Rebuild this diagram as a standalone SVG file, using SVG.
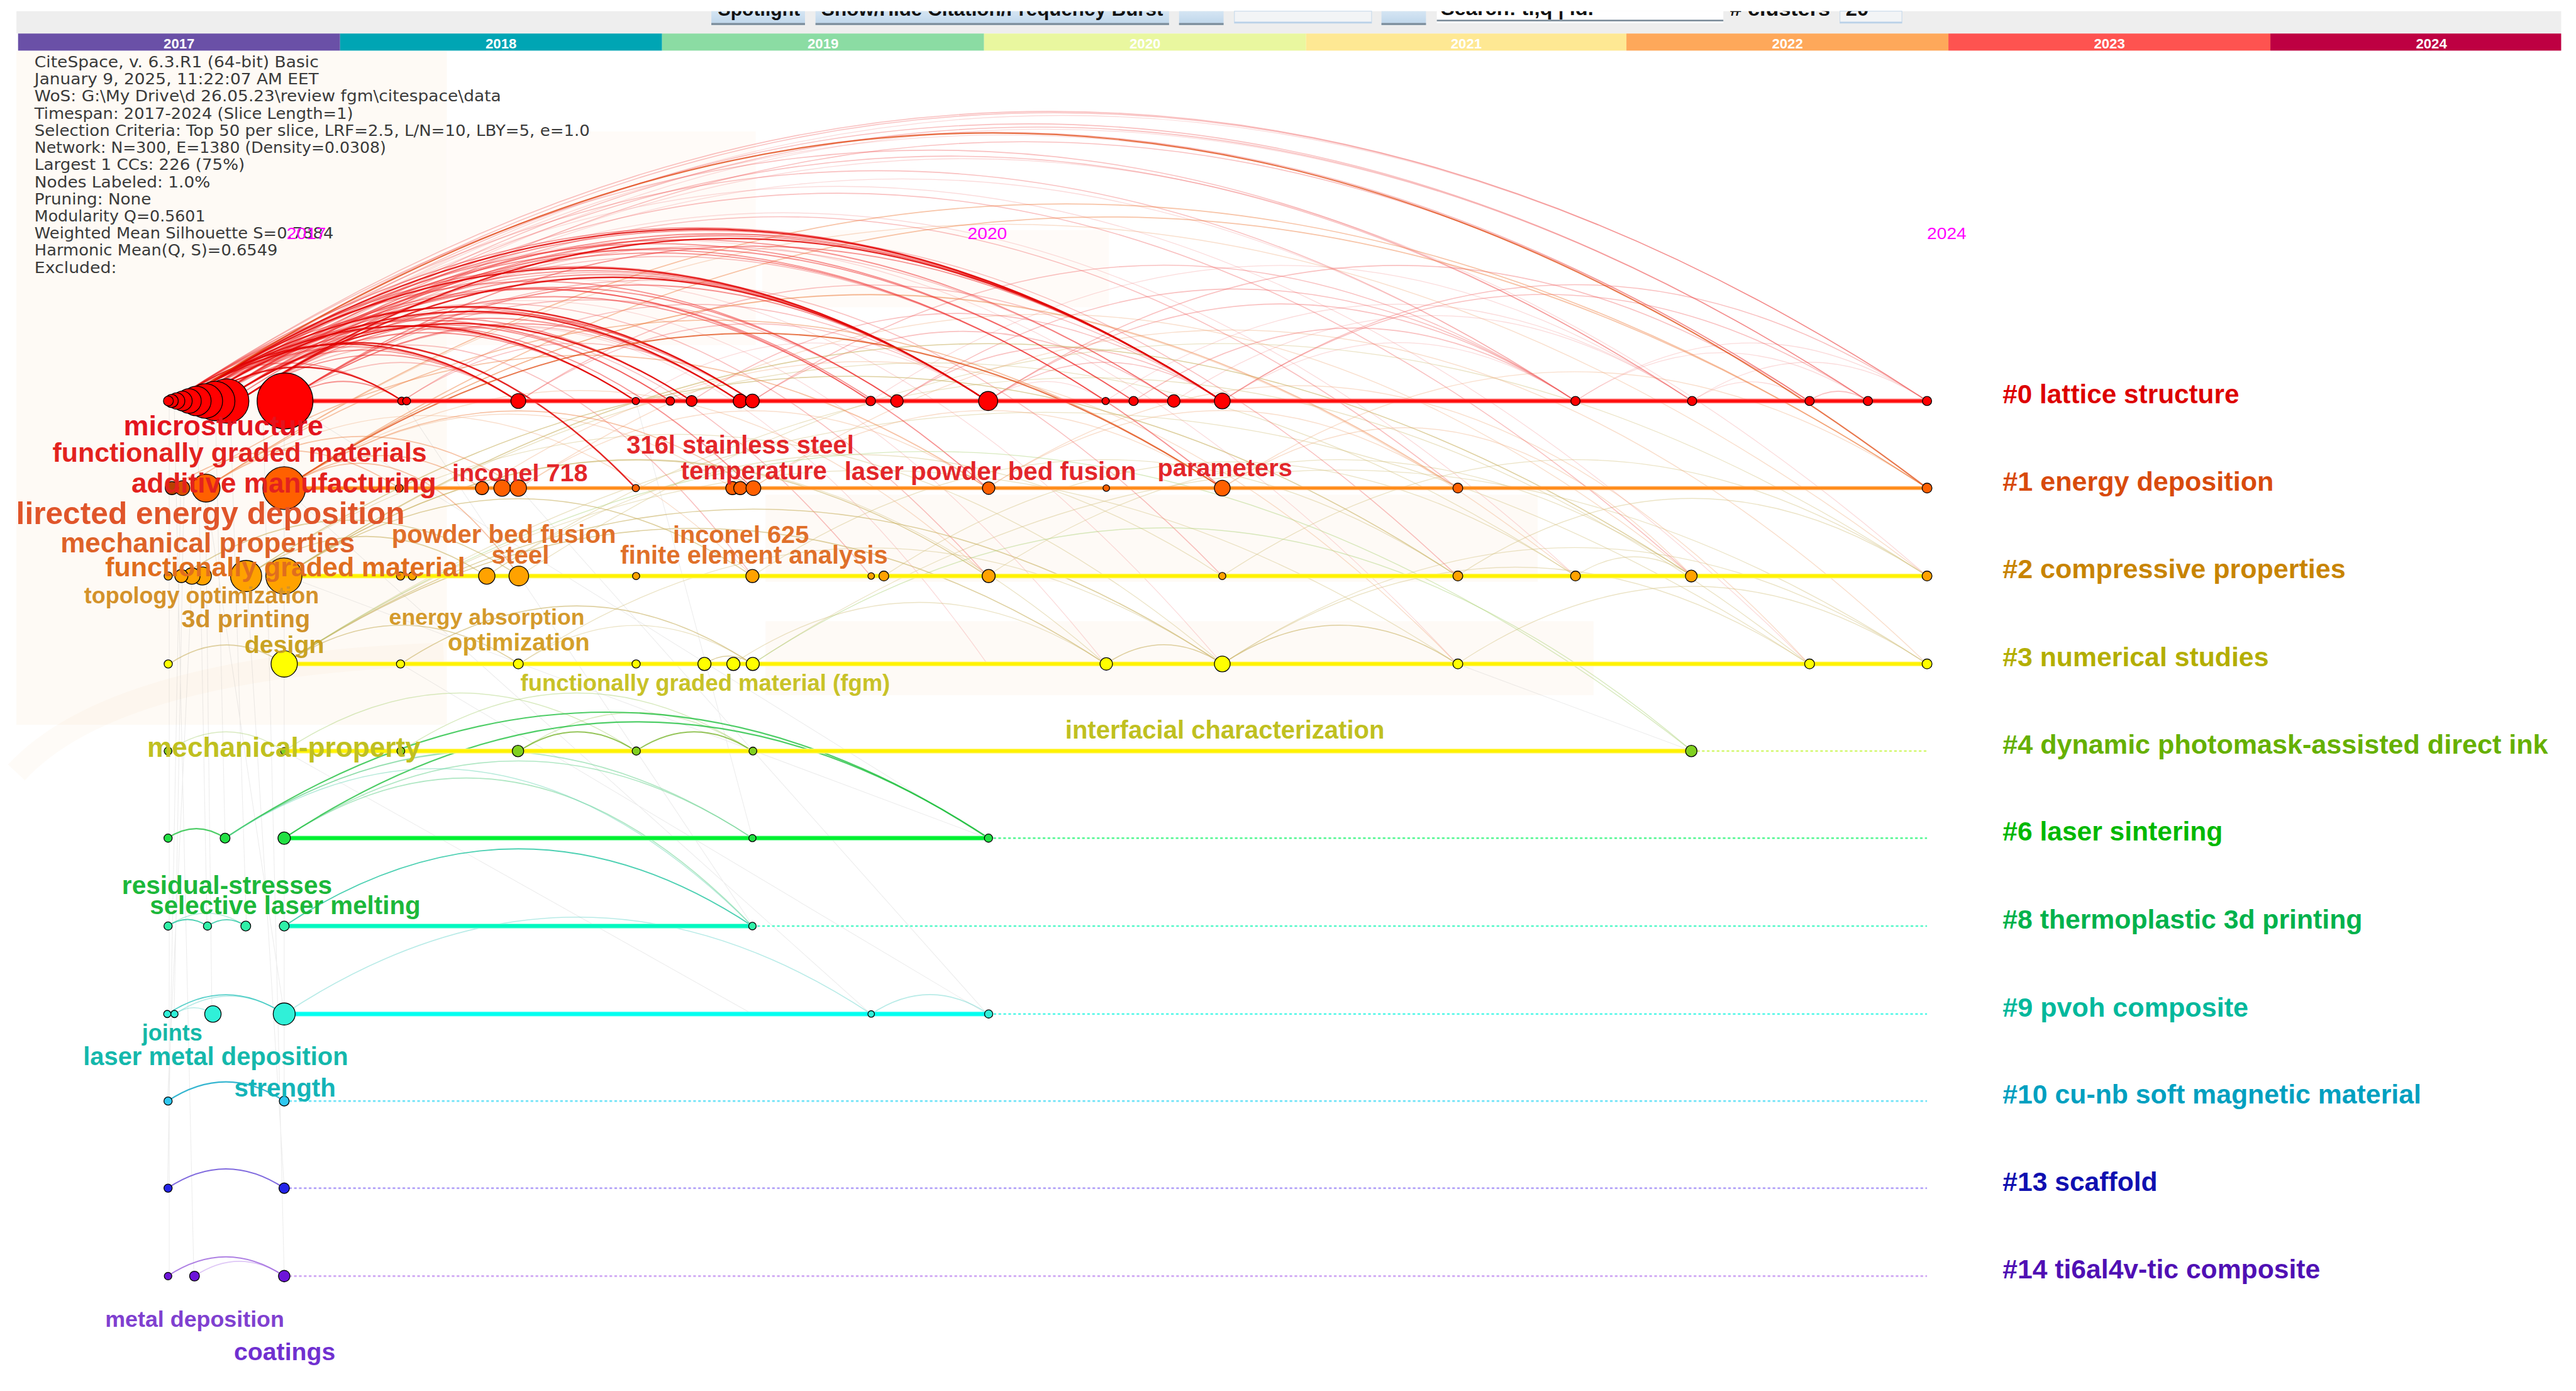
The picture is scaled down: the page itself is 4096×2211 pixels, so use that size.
<svg xmlns="http://www.w3.org/2000/svg" width="4096" height="2211" viewBox="0 0 4096 2211">
<defs>
<style>
.info{font-family:"DejaVu Sans","Liberation Sans",sans-serif;font-size:9.4px;fill:#3a3a3a}
.yr{font-family:"Liberation Sans",Arial,sans-serif;font-size:8.5px;font-weight:bold;fill:#ffffff;text-anchor:middle}
.mg{font-family:"Liberation Sans",Arial,sans-serif;font-size:10px;fill:#ff00ff}
.tb{font-family:"Liberation Sans",Arial,sans-serif;font-size:12px;font-weight:bold;fill:#111111}
.lb{font-family:"Liberation Sans",Arial,sans-serif;font-weight:bold}
.cl{font-family:"Liberation Sans",Arial,sans-serif;font-weight:bold;font-size:16px}
.n{stroke:#000000;stroke-width:0.5}
.c0{fill:#ff0000}.c1{fill:#ff6000}.c2{fill:#ffa200}.c3{fill:#ffff00}.c4{fill:#80d020}.c6{fill:#22e044}.c8{fill:#30f0a8}.c9{fill:#30f0d8}.c10{fill:#30c8f0}.c13{fill:#2424e8}.c14{fill:#6c14d8}
#connectors path,#connectors line{fill:none}
.r1{stroke:#e00000;stroke-opacity:.85;stroke-width:.9}
.r2{stroke:#f02828;stroke-opacity:.5;stroke-width:.7}
.r3{stroke:#f05a5a;stroke-opacity:.38;stroke-width:.6}
.r4{stroke:#f49090;stroke-opacity:.32;stroke-width:.5}
.o1{stroke:#e04a10;stroke-opacity:.75;stroke-width:.8}
.o2{stroke:#ee7a3a;stroke-opacity:.45;stroke-width:.65}
.o3{stroke:#f0a878;stroke-opacity:.38;stroke-width:.55}
.y1{stroke:#c8b060;stroke-opacity:.6;stroke-width:.6}
.y2{stroke:#d2c27e;stroke-opacity:.45;stroke-width:.5}
.g1{stroke:#70b020;stroke-opacity:.75;stroke-width:.7}
.g2{stroke:#a8d070;stroke-opacity:.45;stroke-width:.55}
.g3{stroke:#20c040;stroke-opacity:.8;stroke-width:.8}
.g4{stroke:#60d088;stroke-opacity:.5;stroke-width:.6}
.t1{stroke:#10c098;stroke-opacity:.75;stroke-width:.7}
.t2{stroke:#70d8b8;stroke-opacity:.5;stroke-width:.6}
.c1a{stroke:#20c0b8;stroke-opacity:.75;stroke-width:.7}
.c2a{stroke:#70d8d0;stroke-opacity:.5;stroke-width:.6}
.gl{stroke:#a8a8a8;stroke-opacity:.22;stroke-width:.4}
.dot{fill:none;stroke-width:1;stroke-dasharray:1.6 1.4}
</style>
<linearGradient id="btn" x1="0" y1="0" x2="0" y2="1">
<stop offset="0" stop-color="#d5e5f3"/><stop offset="1" stop-color="#bdd5ea"/>
</linearGradient>
<clipPath id="tbclip"><rect x="0" y="6.8" width="1568" height="14"/></clipPath>
</defs>
<rect width="4096" height="2211" fill="#ffffff"/>
<g transform="scale(2.6122)">
<g id="background">
<rect x="10" y="6.8" width="1549" height="13.6" fill="#eeeeee"/>
<rect x="10" y="31" width="262" height="410" fill="#fefaf5"/>
<rect x="272" y="80" width="188" height="130" fill="#fffbf8"/>
<rect x="464" y="140" width="211" height="47" fill="#fffbf8"/>
<rect x="466" y="301" width="470" height="53" fill="#fefaf6"/>
<rect x="466" y="378" width="504" height="45" fill="#fefaf6"/>
<path d="M10 470 Q70 405 270 398" fill="none" stroke="#f6dcc0" stroke-width="14" stroke-opacity=".12"/>
</g>
<g id="toolbar">
<rect x="433" y="6.8" width="57" height="8.4" fill="url(#btn)"/><rect x="433" y="14" width="57" height="1.2" fill="#7b8c9a"/>
<rect x="496.4" y="6.8" width="215.2" height="8.4" fill="url(#btn)"/><rect x="496.4" y="14" width="215.2" height="1.2" fill="#7b8c9a"/>
<rect x="717.7" y="6.8" width="27.1" height="8.4" fill="url(#btn)"/><rect x="717.7" y="14" width="27.1" height="1.2" fill="#7b8c9a"/>
<rect x="751.4" y="6.8" width="83.5" height="7.3" fill="#f2f4f6" stroke="#c4d8ea" stroke-width=".4"/><rect x="751.4" y="13.2" width="83.5" height="0.9" fill="#b8d0e8"/>
<rect x="840.9" y="6.8" width="27.1" height="8.4" fill="url(#btn)"/><rect x="840.9" y="14" width="27.1" height="1.2" fill="#7b8c9a"/>
<rect x="874.6" y="6.8" width="174.4" height="7.3" fill="#ffffff"/><rect x="874.6" y="12" width="174.4" height="1" fill="#7b8c9a"/>
<rect x="1120" y="6.8" width="37.7" height="7.3" fill="#f2f4f6" stroke="#c4d8ea" stroke-width=".4"/><rect x="1120" y="13.2" width="37.7" height="0.9" fill="#b8d0e8"/>
<g clip-path="url(#tbclip)">
<text class="tb" x="437" y="9.6" font-size="11.5" textLength="50" lengthAdjust="spacingAndGlyphs">Spotlight</text>
<text class="tb" x="500" y="9.6" textLength="208" lengthAdjust="spacingAndGlyphs">Show/Hide Citation/Frequency Burst</text>
<text class="tb" x="877" y="9.3" font-weight="normal" font-size="11" textLength="93" lengthAdjust="spacingAndGlyphs">Search: ti,q | id.</text>
<text class="tb" x="1053" y="9.6" textLength="61" lengthAdjust="spacingAndGlyphs"># clusters</text>
<text class="tb" x="1123.5" y="9.6" textLength="14" lengthAdjust="spacingAndGlyphs">20</text>
</g>
</g>
<g id="yearbar">
<rect x="11" y="20.4" width="196" height="10.4" fill="#6a50a7"/>
<rect x="207" y="20.4" width="196" height="10.4" fill="#00a5b4"/>
<rect x="403" y="20.4" width="196" height="10.4" fill="#8bdca3"/>
<rect x="599" y="20.4" width="196" height="10.4" fill="#e9f79f"/>
<rect x="795" y="20.4" width="195" height="10.4" fill="#fee893"/>
<rect x="990" y="20.4" width="196" height="10.4" fill="#fea85a"/>
<rect x="1186" y="20.4" width="196" height="10.4" fill="#fe5350"/>
<rect x="1382" y="20.4" width="177" height="10.4" fill="#be0042"/>
<text class="yr" x="109" y="29.3">2017</text>
<text class="yr" x="305" y="29.3">2018</text>
<text class="yr" x="501" y="29.3">2019</text>
<text class="yr" x="697" y="29.3">2020</text>
<text class="yr" x="892.5" y="29.3">2021</text>
<text class="yr" x="1088" y="29.3">2022</text>
<text class="yr" x="1284" y="29.3">2023</text>
<text class="yr" x="1480" y="29.3">2024</text>
</g>
<g id="info">
<text class="info" x="21" y="41" textLength="173" lengthAdjust="spacingAndGlyphs">CiteSpace, v. 6.3.R1 (64-bit) Basic</text>
<text class="info" x="21" y="51.4" textLength="173" lengthAdjust="spacingAndGlyphs">January 9, 2025, 11:22:07 AM EET</text>
<text class="info" x="21" y="61.8" textLength="284" lengthAdjust="spacingAndGlyphs">WoS: G:\My Drive\d 26.05.23\review fgm\citespace\data</text>
<text class="info" x="21" y="72.3" textLength="194" lengthAdjust="spacingAndGlyphs">Timespan: 2017-2024 (Slice Length=1)</text>
<text class="info" x="21" y="82.7" textLength="338" lengthAdjust="spacingAndGlyphs">Selection Criteria: Top 50 per slice, LRF=2.5, L/N=10, LBY=5, e=1.0</text>
<text class="info" x="21" y="93.1" textLength="214" lengthAdjust="spacingAndGlyphs">Network: N=300, E=1380 (Density=0.0308)</text>
<text class="info" x="21" y="103.5" textLength="128" lengthAdjust="spacingAndGlyphs">Largest 1 CCs: 226 (75%)</text>
<text class="info" x="21" y="113.9" textLength="107" lengthAdjust="spacingAndGlyphs">Nodes Labeled: 1.0%</text>
<text class="info" x="21" y="124.4" textLength="71" lengthAdjust="spacingAndGlyphs">Pruning: None</text>
<text class="info" x="21" y="134.8" textLength="104" lengthAdjust="spacingAndGlyphs">Modularity Q=0.5601</text>
<text class="info" x="21" y="145.2" textLength="182" lengthAdjust="spacingAndGlyphs">Weighted Mean Silhouette S=0.7884</text>
<text class="info" x="21" y="155.6" textLength="148" lengthAdjust="spacingAndGlyphs">Harmonic Mean(Q, S)=0.6549</text>
<text class="info" x="21" y="166" textLength="50" lengthAdjust="spacingAndGlyphs">Excluded:</text>
</g>
<g id="connectors">
<path class="gl" d="M103 244L103 776M106 244L118 776M112 297L106 617M125 297L129 617M131 244L137 510M140 244L150 563M150 350L173 723M160 244L173 776M173 244L173 670M117 350L102 670M120 244L126 563M173 297L530 617M173 244L601 510M245 244L458 563M316 297L601 617M387 244L458 510M887 404L1030 457M173 350L601 510M125 297L173 617M110 297L102 723M244 404L601 617M173 457L458 617"/>
<path class="r4" d="M120 244Q646.5 -103.5 1173 244"/>
<path class="r4" d="M135 244Q636 -86.7 1137 244"/>
<path class="r4" d="M120 244Q610.5 -79.7 1101 244"/>
<path class="r4" d="M140 244Q549.5 -26.3 959 244"/>
<path class="r4" d="M530 244Q780 79 1030 244"/>
<path class="r4" d="M673 244Q851.5 126.2 1030 244"/>
<path class="r4" d="M959 244Q1048 185.3 1137 244"/>
<path class="r4" d="M1030 244Q1101.5 196.8 1173 244"/>
<path class="r4" d="M387 244Q494 173.4 601 244"/>
<path class="r4" d="M601 244Q637 220.2 673 244"/>
<path class="r4" d="M1030 244Q1065.5 220.6 1101 244"/>
<path class="r4" d="M744 244Q851.5 173 959 244"/>
<path class="r4" d="M715 244Q872.5 140 1030 244"/>
<path class="r4" d="M959 244Q1066 173.4 1173 244"/>
<path class="r4" d="M130 244Q544.5 -29.6 959 350.5"/>
<path class="r4" d="M135 244Q404 66.5 673 404"/>
<path class="r4" d="M120 244Q432 38.1 744 404"/>
<path class="r4" d="M110 244Q498.5 -12.4 887 404"/>
<path class="r4" d="M115 244Q608 -81.4 1101 404"/>
<path class="r4" d="M140 244Q656.5 -96.9 1173 350.5"/>
<path class="r4" d="M173 244Q387 102.8 601 404"/>
<path class="y2" d="M173 350.5Q566 91.1 959 350.5"/>
<path class="y2" d="M316 350.5Q744.5 67.7 1173 350.5"/>
<path class="y2" d="M296 350.5Q520 202.7 744 350.5"/>
<path class="y2" d="M458 350.5Q672.5 208.9 887 350.5"/>
<path class="y2" d="M601 350.5Q815.5 208.9 1030 350.5"/>
<path class="y2" d="M538 350.5Q748.5 211.6 959 350.5"/>
<path class="y2" d="M173 404Q530 168.4 887 404"/>
<path class="y2" d="M173 404Q637 97.8 1101 404"/>
<path class="y2" d="M316 404Q530 262.8 744 404"/>
<path class="y2" d="M458 404Q815.5 168 1173 404"/>
<path class="y2" d="M316 404Q387 357.1 458 404"/>
<path class="y2" d="M446 404Q559.5 329.1 673 404"/>
<path class="y2" d="M744 404Q922.5 286.2 1101 404"/>
<path class="y2" d="M744 404Q958.5 262.4 1173 404"/>
<path class="y2" d="M887 404Q1030 309.6 1173 404"/>
<path class="y2" d="M744 350.5Q958.5 208.9 1173 350.5"/>
<path class="y2" d="M887 350.5Q1030 256.1 1173 350.5"/>
<path class="y2" d="M959 350.5Q994.5 327.1 1030 350.5"/>
<path class="y2" d="M173 350.5Q423 185.5 673 404"/>
<path class="y2" d="M150 350.5Q447 154.5 744 404"/>
<path class="y2" d="M296 350.5Q698.5 84.9 1101 404"/>
<path class="o3" d="M125 297Q649 -48.8 1173 350.5"/>
<path class="o3" d="M173 297Q309.5 207 446 297"/>
<path class="o3" d="M316 297Q458.5 203 601 297"/>
<path class="o3" d="M458 297Q601 202.6 744 297"/>
<path class="o3" d="M601 297Q744 202.6 887 297"/>
<path class="o3" d="M744 297Q958.5 155.4 1173 297"/>
<path class="o3" d="M173 297Q387 155.8 601 350.5"/>
<path class="o3" d="M125 297Q291.5 187.1 458 350.5"/>
<path class="o3" d="M316 297Q673 61.4 1030 350.5"/>
<path class="o3" d="M173 297Q566 37.6 959 350.5"/>
<path class="o3" d="M458 297Q815.5 61 1173 404"/>
<path class="o3" d="M601 297Q851 132 1101 404"/>
<path class="o3" d="M744 297Q887 202.6 1030 350.5"/>
<path class="o3" d="M293 297Q590 101 887 404"/>
<path class="r3" d="M105 244Q639 -108.4 1173 244"/>
<path class="r3" d="M110 244Q641.5 -106.8 1173 244"/>
<path class="r3" d="M127 244Q632 -89.3 1137 244"/>
<path class="r3" d="M115 244Q626 -93.3 1137 244"/>
<path class="r3" d="M110 244Q605.5 -83 1101 244"/>
<path class="r3" d="M145 244Q623 -71.5 1101 244"/>
<path class="r3" d="M105 244Q567.5 -61.3 1030 244"/>
<path class="r3" d="M127 244Q578.5 -54 1030 244"/>
<path class="r3" d="M110 244Q534.5 -36.2 959 244"/>
<path class="r3" d="M145 244Q430 55.9 715 244"/>
<path class="r3" d="M140 244Q406.5 68.1 673 244"/>
<path class="r3" d="M127 244Q364 87.6 601 244"/>
<path class="r3" d="M173 244Q359.5 120.9 546 244"/>
<path class="r3" d="M173 244Q311.5 152.6 450 244"/>
<path class="r3" d="M173 244Q244 197.1 315 244"/>
<path class="r3" d="M245 244Q423 126.5 601 244"/>
<path class="r3" d="M316 244Q530 102.8 744 244"/>
<path class="r3" d="M421 244Q582.5 137.4 744 244"/>
<path class="r3" d="M458 244Q708.5 78.7 959 244"/>
<path class="r3" d="M601 244Q780 125.9 959 244"/>
<path class="r3" d="M601 244Q851 79 1101 244"/>
<path class="r3" d="M690 244Q824.5 155.2 959 244"/>
<path class="r3" d="M744 244Q940.5 114.3 1137 244"/>
<path class="r3" d="M744 244Q958.5 102.4 1173 244"/>
<path class="r3" d="M1101 244Q1119 232.1 1137 244"/>
<path class="r3" d="M458 244Q586.5 159.2 715 244"/>
<path class="r3" d="M316 244Q458.5 150 601 244"/>
<path class="r3" d="M245 244Q351.5 173.7 458 244"/>
<path class="r3" d="M546 244Q645 178.7 744 244"/>
<path class="r3" d="M601 244Q672.5 196.8 744 244"/>
<path class="r3" d="M546 244Q752.5 107.7 959 244"/>
<path class="r3" d="M135 244Q511 -4.2 887 297"/>
<path class="r3" d="M145 244Q337.5 117 530 350.5"/>
<path class="r3" d="M120 244Q360.5 85.3 601 350.5"/>
<path class="r3" d="M173 244Q458.5 55.6 744 350.5"/>
<path class="r3" d="M140 244Q513.5 -2.5 887 350.5"/>
<path class="r3" d="M127 244Q578.5 -54 1030 350.5"/>
<path class="r3" d="M145 244Q301.5 140.7 458 350.5"/>
<path class="y1" d="M173 350.5Q387 209.3 601 350.5"/>
<path class="y1" d="M150 350.5Q518.5 107.3 887 350.5"/>
<path class="y1" d="M173 350.5Q601.5 67.7 1030 350.5"/>
<path class="y1" d="M173 350.5Q315.5 256.5 458 350.5"/>
<path class="y1" d="M110 350.5Q213 282.5 316 350.5"/>
<path class="y1" d="M150 350.5Q223 302.3 296 350.5"/>
<path class="y1" d="M173 404Q423 239 673 404"/>
<path class="y1" d="M173 404Q458.5 215.6 744 404"/>
<path class="y1" d="M244 404Q351 333.4 458 404"/>
<path class="y1" d="M429 404Q443.5 394.4 458 404"/>
<path class="y1" d="M673 404Q708.5 380.6 744 404"/>
<path class="y1" d="M744 404Q815.5 356.8 887 404"/>
<path class="y1" d="M103 404Q138 380.9 173 404"/>
<path class="y1" d="M173 404Q244.5 356.8 316 404"/>
<path class="o2" d="M173 297Q673 -33 1173 297"/>
<path class="o2" d="M125 297Q649 -48.8 1173 297"/>
<path class="o2" d="M125 297Q434.5 92.7 744 297"/>
<path class="o2" d="M173 297Q530 61.4 887 297"/>
<path class="o2" d="M111 297Q356 135.3 601 297"/>
<path class="o2" d="M173 297Q315.5 203 458 297"/>
<path class="o2" d="M125 297Q220.5 234 316 297"/>
<path class="o2" d="M104 297Q173.5 251.1 243 297"/>
<path class="o2" d="M173 297Q233 257.4 293 297"/>
<path class="o2" d="M173 297Q244.5 249.8 316 350.5"/>
<path class="r2" d="M105 244Q424.5 33.1 744 244"/>
<path class="r2" d="M115 244Q429.5 36.4 744 244"/>
<path class="r2" d="M127 244Q435.5 40.4 744 244"/>
<path class="r2" d="M135 244Q439.5 43 744 244"/>
<path class="r2" d="M173 244Q458.5 55.6 744 244"/>
<path class="r2" d="M120 244Q417.5 47.6 715 244"/>
<path class="r2" d="M110 244Q400 52.6 690 244"/>
<path class="r2" d="M127 244Q408.5 58.2 690 244"/>
<path class="r2" d="M115 244Q394 59.9 673 244"/>
<path class="r2" d="M105 244Q353 80.3 601 244"/>
<path class="r2" d="M120 244Q360.5 85.3 601 244"/>
<path class="r2" d="M135 244Q368 90.2 601 244"/>
<path class="r2" d="M173 244Q387 102.8 601 244"/>
<path class="r2" d="M105 244Q325.5 98.5 546 244"/>
<path class="r2" d="M127 244Q336.5 105.7 546 244"/>
<path class="r2" d="M115 244Q322.5 107 530 244"/>
<path class="r2" d="M145 244Q337.5 117 530 244"/>
<path class="r2" d="M127 244Q292.5 134.8 458 244"/>
<path class="r2" d="M135 244Q296.5 137.4 458 244"/>
<path class="r2" d="M173 244Q315.5 150 458 244"/>
<path class="r2" d="M105 244Q277.5 130.1 450 244"/>
<path class="r2" d="M145 244Q297.5 143.3 450 244"/>
<path class="r2" d="M115 244Q268 143 421 244"/>
<path class="r2" d="M110 244Q259 145.7 408 244"/>
<path class="r2" d="M127 244Q267.5 151.3 408 244"/>
<path class="r2" d="M120 244Q253.5 155.9 387 244"/>
<path class="r2" d="M135 244Q261 160.8 387 244"/>
<path class="r2" d="M115 244Q215 178 315 244"/>
<path class="r2" d="M127 244Q221 182 315 244"/>
<path class="r2" d="M145 244Q230 187.9 315 244"/>
<path class="r2" d="M105 244Q175 197.8 245 244"/>
<path class="r2" d="M173 244Q209 220.2 245 244"/>
<path class="r2" d="M115 244Q286.5 130.8 458 297"/>
<path class="r2" d="M120 244Q360.5 85.3 601 297"/>
<path class="r2" d="M127 244Q435.5 40.4 744 297"/>
<path class="r1" d="M110 244Q427 34.8 744 244"/>
<path class="r1" d="M145 244Q444.5 46.3 744 244"/>
<path class="r1" d="M110 244Q355.5 82 601 244"/>
<path class="r1" d="M145 244Q373 93.5 601 244"/>
<path class="r1" d="M110 244Q284 129.2 458 244"/>
<path class="r1" d="M120 244Q285 135.1 450 244"/>
<path class="r1" d="M135 244Q278 149.6 421 244"/>
<path class="r1" d="M110 244Q248.5 152.6 387 244"/>
<path class="r1" d="M105 244Q210 174.7 315 244"/>
<path class="r1" d="M120 244Q182.5 202.7 245 244"/>
<path class="r1" d="M110 244Q248.5 152.6 387 297"/>
<path class="o1" d="M110 244Q641.5 -106.8 1173 297"/>
<path class="o1" d="M173 297Q458.5 108.6 744 297"/>
<path class="g2" d="M458 404Q744 215.2 1030 457"/>
<path class="g2" d="M173 404Q601.5 121.2 1030 457"/>
<path class="g2" d="M316 457Q387 410.1 458 457"/>
<path class="g2" d="M173 457Q280 386.4 387 457"/>
<path class="g2" d="M244 457Q351 386.4 458 457"/>
<path class="g2" d="M102 457Q137.5 433.6 173 457"/>
<path class="g1" d="M316 457Q351.5 433.6 387 457"/>
<path class="g1" d="M387 457Q422.5 433.6 458 457"/>
<path class="g4" d="M173 510Q315.5 416 458 510"/>
<path class="g4" d="M137 510Q297.5 404.1 458 510"/>
<path class="g4" d="M137 510Q226.5 451 316 457"/>
<path class="g4" d="M173 510Q315.5 416 458 563.5"/>
<path class="g3" d="M102 510Q119.5 498.4 137 510"/>
<path class="g3" d="M137 510Q369.4 356.7 601.7 510"/>
<path class="g3" d="M173 510Q387.4 368.5 601.7 510"/>
<path class="t2" d="M102 563.5Q125.8 547.8 149.6 563.5"/>
<path class="t2" d="M137 510Q297.5 404.1 458 563.5"/>
<path class="t1" d="M102 563.5Q114.2 555.5 126.3 563.5"/>
<path class="t1" d="M126.3 563.5Q138 555.8 149.6 563.5"/>
<path class="t1" d="M173 563.5Q315.5 469.5 458 563.5"/>
<path class="c2a" d="M106.5 617Q139.8 595.1 173 617"/>
<path class="c2a" d="M106.5 617Q118 609.4 129.6 617"/>
<path class="c2a" d="M173 617Q351.6 499.1 530.3 617"/>
<path class="c2a" d="M530.3 617Q566 593.4 601.8 617"/>
<path class="c1a" d="M102 617Q137.5 593.6 173 617"/>
<path d="M102 670Q137.5 646.6 173 670" stroke="#10a8c8" stroke-opacity=".85" stroke-width=".8"/>
<path d="M102 723Q137.5 699.6 173 723" stroke="#6a50d8" stroke-opacity=".85" stroke-width=".8"/>
<path d="M118.4 776.5Q145.7 758.5 173 776.5" stroke="#c8a0f0" stroke-opacity=".6" stroke-width=".6"/>
<path d="M102 776.5Q137.5 753.1 173 776.5" stroke="#9a60dc" stroke-opacity=".8" stroke-width=".8"/>
</g>
<g id="timelines">
<line x1="173" y1="244" x2="1173" y2="244" stroke="#ff8080" stroke-width="3.2" stroke-opacity=".7"/>
<line x1="173" y1="244" x2="1173" y2="244" stroke="#ff1010" stroke-width="2"/>
<line x1="173" y1="297" x2="1173" y2="297" stroke="#ffc08a" stroke-width="2.6" stroke-opacity=".8"/>
<line x1="173" y1="297" x2="1173" y2="297" stroke="#ff8c1a" stroke-width="1.7"/>
<line x1="173" y1="350.5" x2="1173" y2="350.5" stroke="#fff890" stroke-width="3"/>
<line x1="173" y1="350.5" x2="1173" y2="350.5" stroke="#fff200" stroke-width="2.1"/>
<line x1="173" y1="404" x2="1173" y2="404" stroke="#fff890" stroke-width="3"/>
<line x1="173" y1="404" x2="1173" y2="404" stroke="#fff200" stroke-width="2.1"/>
<line x1="173" y1="457" x2="1030" y2="457" stroke="#fff890" stroke-width="3"/>
<line x1="173" y1="457" x2="1030" y2="457" stroke="#fff200" stroke-width="2.1"/>
<line class="dot" x1="1030" y1="457" x2="1173" y2="457" stroke="#d4f870"/>
<line x1="173" y1="510" x2="601.7" y2="510" stroke="#90ffb0" stroke-width="3"/>
<line x1="173" y1="510" x2="601.7" y2="510" stroke="#00f030" stroke-width="2.2"/>
<line class="dot" x1="601.7" y1="510" x2="1173" y2="510" stroke="#50f890"/>
<line x1="173" y1="563.5" x2="458" y2="563.5" stroke="#90ffe0" stroke-width="3"/>
<line x1="173" y1="563.5" x2="458" y2="563.5" stroke="#00f8c0" stroke-width="2.2"/>
<line class="dot" x1="458" y1="563.5" x2="1173" y2="563.5" stroke="#50f8c8"/>
<line x1="173" y1="617" x2="601.8" y2="617" stroke="#90fff8" stroke-width="3"/>
<line x1="173" y1="617" x2="601.8" y2="617" stroke="#00fff0" stroke-width="2.3"/>
<line class="dot" x1="601.8" y1="617" x2="1173" y2="617" stroke="#50f8e8"/>
<line class="dot" x1="173" y1="670" x2="1173" y2="670" stroke="#70e4f8"/>
<line class="dot" x1="173" y1="723" x2="1173" y2="723" stroke="#b4a4f8"/>
<line class="dot" x1="173" y1="776.5" x2="1173" y2="776.5" stroke="#d0a8f4"/>
</g>
<g id="nodes">
<g id="cluster0-nodes">
<circle id="n0-1" class="n c0" cx="138" cy="244" r="13.5"/>
<circle id="n0-2" class="n c0" cx="131" cy="244" r="12"/>
<circle id="n0-3" class="n c0" cx="125" cy="244" r="10.5"/>
<circle id="n0-4" class="n c0" cx="119.5" cy="244" r="9"/>
<circle id="n0-5" class="n c0" cx="115" cy="244" r="7.5"/>
<circle id="n0-6" class="n c0" cx="111" cy="244" r="6"/>
<circle id="n0-7" class="n c0" cx="107.5" cy="244" r="5"/>
<circle id="n0-8" class="n c0" cx="104.5" cy="244" r="4"/>
<circle id="n0-9" class="n c0" cx="102.5" cy="244" r="3"/>
<circle id="n0-microstructure" class="n c0" cx="173.5" cy="244" r="17"/>
<circle id="n0-11" class="n c0" cx="244.5" cy="244" r="2.4"/>
<circle id="n0-12" class="n c0" cx="247.5" cy="244" r="2.4"/>
<circle id="n0-13" class="n c0" cx="315.5" cy="244" r="4.5"/>
<circle id="n0-14" class="n c0" cx="387" cy="244" r="2.2"/>
<circle id="n0-15" class="n c0" cx="408" cy="244" r="2.6"/>
<circle id="n0-16" class="n c0" cx="421" cy="244" r="3.3"/>
<circle id="n0-17" class="n c0" cx="450.5" cy="244" r="4.2"/>
<circle id="n0-18" class="n c0" cx="458" cy="244" r="4.2"/>
<circle id="n0-19" class="n c0" cx="530" cy="244" r="2.9"/>
<circle id="n0-20" class="n c0" cx="546" cy="244" r="3.8"/>
<circle id="n0-21" class="n c0" cx="601.5" cy="244" r="5.8"/>
<circle id="n0-22" class="n c0" cx="673" cy="244" r="2.2"/>
<circle id="n0-23" class="n c0" cx="690" cy="244" r="2.8"/>
<circle id="n0-24" class="n c0" cx="714.5" cy="244" r="3.8"/>
<circle id="n0-25" class="n c0" cx="744" cy="244" r="4.8"/>
<circle id="n0-26" class="n c0" cx="959" cy="244" r="2.8"/>
<circle id="n0-27" class="n c0" cx="1030" cy="244" r="2.8"/>
<circle id="n0-28" class="n c0" cx="1101.5" cy="244" r="2.8"/>
<circle id="n0-29" class="n c0" cx="1137" cy="244" r="2.8"/>
<circle id="n0-30" class="n c0" cx="1173" cy="244" r="2.8"/>
</g>
<g id="cluster1-nodes">
<circle id="n1-1" class="n c1" cx="173" cy="297" r="13"/>
<circle id="n1-2" class="n c1" cx="125.4" cy="297" r="8.5"/>
<circle id="n1-3" class="n" fill="#d85000" cx="111" cy="297" r="4.5"/>
<circle id="n1-4" class="n" fill="#b84000" cx="104.6" cy="297" r="4"/>
<circle id="n1-5" class="n c1" cx="243" cy="297" r="2.4"/>
<circle id="n1-6" class="n c1" cx="293.4" cy="297" r="4"/>
<circle id="n1-7" class="n c1" cx="305.6" cy="297" r="5"/>
<circle id="n1-8" class="n c1" cx="315.5" cy="297" r="5"/>
<circle id="n1-9" class="n c1" cx="387" cy="297" r="2.2"/>
<circle id="n1-10" class="n c1" cx="445.8" cy="297" r="4"/>
<circle id="n1-11" class="n c1" cx="450.6" cy="297" r="4"/>
<circle id="n1-12" class="n c1" cx="458.6" cy="297" r="4.5"/>
<circle id="n1-13" class="n c1" cx="601.8" cy="297" r="3.8"/>
<circle id="n1-14" class="n c1" cx="673.4" cy="297" r="2"/>
<circle id="n1-15" class="n c1" cx="744" cy="297" r="4.8"/>
<circle id="n1-16" class="n c1" cx="887.4" cy="297" r="3"/>
<circle id="n1-17" class="n c1" cx="1173" cy="297" r="3"/>
</g>
<g id="cluster2-nodes">
<circle id="n2-1" class="n c2" cx="172.8" cy="350.5" r="11"/>
<circle id="n2-2" class="n c2" cx="149.8" cy="350.5" r="9.5"/>
<circle id="n2-3" class="n c2" cx="123.2" cy="350.5" r="5.5"/>
<circle id="n2-4" class="n c2" cx="116.8" cy="350.5" r="5"/>
<circle id="n2-5" class="n c2" cx="110.4" cy="350.5" r="4"/>
<circle id="n2-6" class="n c2" cx="102.4" cy="350.5" r="2.5"/>
<circle id="n2-7" class="n c2" cx="243.8" cy="350.5" r="2.5"/>
<circle id="n2-8" class="n c2" cx="251" cy="350.5" r="2.5"/>
<circle id="n2-9" class="n c2" cx="296.3" cy="350.5" r="5"/>
<circle id="n2-10" class="n c2" cx="315.8" cy="350.5" r="6"/>
<circle id="n2-11" class="n c2" cx="387.2" cy="350.5" r="2.2"/>
<circle id="n2-12" class="n c2" cx="458" cy="350.5" r="4"/>
<circle id="n2-13" class="n c2" cx="530.3" cy="350.5" r="2"/>
<circle id="n2-14" class="n c2" cx="538" cy="350.5" r="3"/>
<circle id="n2-15" class="n c2" cx="601.8" cy="350.5" r="4"/>
<circle id="n2-16" class="n c2" cx="744" cy="350.5" r="2.2"/>
<circle id="n2-17" class="n c2" cx="887.4" cy="350.5" r="3"/>
<circle id="n2-18" class="n c2" cx="959" cy="350.5" r="3"/>
<circle id="n2-19" class="n c2" cx="1029.5" cy="350.5" r="3.6"/>
<circle id="n2-20" class="n c2" cx="1173" cy="350.5" r="3"/>
</g>
<g id="cluster3-nodes">
<circle id="n3-1" class="n c3" cx="102.4" cy="404" r="2.5"/>
<circle id="n3-design" class="n c3" cx="173" cy="404" r="8"/>
<circle id="n3-3" class="n c3" cx="243.8" cy="404" r="2.5"/>
<circle id="n3-4" class="n c3" cx="315.5" cy="404" r="3"/>
<circle id="n3-5" class="n c3" cx="387.2" cy="404" r="2.5"/>
<circle id="n3-6" class="n c3" cx="428.8" cy="404" r="4"/>
<circle id="n3-7" class="n c3" cx="446.4" cy="404" r="4"/>
<circle id="n3-8" class="n c3" cx="458.2" cy="404" r="4"/>
<circle id="n3-9" class="n c3" cx="673.4" cy="404" r="3.8"/>
<circle id="n3-10" class="n c3" cx="744" cy="404" r="4.8"/>
<circle id="n3-11" class="n c3" cx="887.4" cy="404" r="3"/>
<circle id="n3-12" class="n c3" cx="1101.5" cy="404" r="3"/>
<circle id="n3-13" class="n c3" cx="1173" cy="404" r="3"/>
</g>
<g id="cluster4-nodes">
<circle id="n4-1" class="n c4" cx="102.3" cy="457" r="2.4"/>
<circle id="n4-2" class="n c4" cx="173" cy="457" r="2.2"/>
<circle id="n4-3" class="n c4" cx="244" cy="457" r="2.4"/>
<circle id="n4-4" class="n c4" cx="315.3" cy="457" r="3.5"/>
<circle id="n4-5" class="n c4" cx="387.3" cy="457" r="2.5"/>
<circle id="n4-6" class="n c4" cx="458.3" cy="457" r="2.4"/>
<circle id="n4-7" class="n c4" cx="1029.5" cy="457" r="3.5"/>
</g>
<g id="cluster6-nodes">
<circle id="n6-1" class="n c6" cx="102.3" cy="510" r="2.5"/>
<circle id="n6-2" class="n c6" cx="137" cy="510" r="3"/>
<circle id="n6-3" class="n c6" cx="173" cy="510" r="3.8"/>
<circle id="n6-4" class="n c6" cx="458" cy="510" r="2.2"/>
<circle id="n6-5" class="n c6" cx="601.7" cy="510" r="2.5"/>
</g>
<g id="cluster8-nodes">
<circle id="n8-1" class="n c8" cx="102.3" cy="563.5" r="2.5"/>
<circle id="n8-2" class="n c8" cx="126.3" cy="563.5" r="2.5"/>
<circle id="n8-3" class="n c8" cx="149.6" cy="563.5" r="3"/>
<circle id="n8-4" class="n c8" cx="173" cy="563.5" r="3"/>
<circle id="n8-5" class="n c8" cx="458" cy="563.5" r="2.3"/>
</g>
<g id="cluster9-nodes">
<circle id="n9-1" class="n c9" cx="101.8" cy="617" r="2.2"/>
<circle id="n9-2" class="n c9" cx="106.2" cy="617" r="2.2"/>
<circle id="n9-3" class="n c9" cx="129.6" cy="617" r="5"/>
<circle id="n9-4" class="n c9" cx="173" cy="617" r="6.7"/>
<circle id="n9-5" class="n c9" cx="530.3" cy="617" r="2"/>
<circle id="n9-6" class="n c9" cx="601.8" cy="617" r="2.5"/>
</g>
<g id="cluster10-nodes">
<circle id="n10-1" class="n c10" cx="102.3" cy="670" r="2.5"/>
<circle id="n10-2" class="n c10" cx="173" cy="670" r="3"/>
</g>
<g id="cluster13-nodes">
<circle id="n13-1" class="n c13" cx="102.3" cy="723" r="2.5"/>
<circle id="n13-2" class="n c13" cx="173" cy="723" r="3.2"/>
</g>
<g id="cluster14-nodes">
<circle id="n14-1" class="n c14" cx="102.3" cy="776.5" r="2.3"/>
<circle id="n14-2" class="n c14" cx="118.4" cy="776.5" r="3"/>
<circle id="n14-3" class="n c14" cx="173" cy="776.5" r="3.5"/>
</g>
</g>
<g id="year-marks">
<text class="mg" x="174.5" y="145.5" textLength="24" lengthAdjust="spacingAndGlyphs">2017</text>
<text class="mg" x="589" y="145.5" textLength="24" lengthAdjust="spacingAndGlyphs">2020</text>
<text class="mg" x="1173" y="145.5" textLength="24" lengthAdjust="spacingAndGlyphs">2024</text>
</g>
<g id="node-labels" class="lb">
<text x="75.2" y="265" font-size="17.2" fill="#e3141e" textLength="121.6" lengthAdjust="spacingAndGlyphs">microstructure</text>
<text x="32" y="281" font-size="16.4" fill="#e3221e" textLength="227.8" lengthAdjust="spacingAndGlyphs">functionally graded materials</text>
<text x="80" y="299.8" font-size="16.9" fill="#e3221e" textLength="185.6" lengthAdjust="spacingAndGlyphs">additive manufacturing</text>
<text x="9.8" y="319" font-size="19" fill="#e0552a" textLength="236.6" lengthAdjust="spacingAndGlyphs">lirected energy deposition</text>
<text x="36.8" y="336" font-size="16.9" fill="#de6228" textLength="179.2" lengthAdjust="spacingAndGlyphs">mechanical properties</text>
<text x="64" y="350.5" font-size="16.4" fill="#e06e1e" textLength="219.2" lengthAdjust="spacingAndGlyphs">functionally graded material</text>
<text x="51.2" y="367" font-size="13.8" fill="#d4922a" textLength="143" lengthAdjust="spacingAndGlyphs">topology optimization</text>
<text x="110.4" y="381.5" font-size="15.2" fill="#d0922a" textLength="78.4" lengthAdjust="spacingAndGlyphs">3d printing</text>
<text x="148.8" y="397.5" font-size="15.1" fill="#c9a222" textLength="48.6" lengthAdjust="spacingAndGlyphs">design</text>
<text x="236.8" y="380" font-size="13.6" fill="#d49a2c" textLength="119" lengthAdjust="spacingAndGlyphs">energy absorption</text>
<text x="272.6" y="396" font-size="14.7" fill="#d4a02a" textLength="86.4" lengthAdjust="spacingAndGlyphs">optimization</text>
<text x="238.4" y="330.5" font-size="15.4" fill="#e0702a" textLength="136.6" lengthAdjust="spacingAndGlyphs">powder bed fusion</text>
<text x="299.2" y="343" font-size="15.4" fill="#e0702a" textLength="35.2" lengthAdjust="spacingAndGlyphs">steel</text>
<text x="275.2" y="292.8" font-size="15.2" fill="#e3262a" textLength="82.6" lengthAdjust="spacingAndGlyphs">inconel 718</text>
<text x="381.4" y="276" font-size="15.3" fill="#e3262a" textLength="138.4" lengthAdjust="spacingAndGlyphs">316l stainless steel</text>
<text x="414.4" y="291.8" font-size="15.4" fill="#e3262a" textLength="89" lengthAdjust="spacingAndGlyphs">temperature</text>
<text x="514" y="292" font-size="15.4" fill="#e3262a" textLength="177.6" lengthAdjust="spacingAndGlyphs">laser powder bed fusion</text>
<text x="704.6" y="289.8" font-size="15.2" fill="#e3262a" textLength="82" lengthAdjust="spacingAndGlyphs">parameters</text>
<text x="409.6" y="330.4" font-size="15.2" fill="#e0702a" textLength="82.8" lengthAdjust="spacingAndGlyphs">inconel 625</text>
<text x="377.6" y="343" font-size="15.3" fill="#e0702a" textLength="162.8" lengthAdjust="spacingAndGlyphs">finite element analysis</text>
<text x="316.8" y="420.3" font-size="14" fill="#c8c228" textLength="225" lengthAdjust="spacingAndGlyphs">functionally graded material (fgm)</text>
<text x="89.6" y="460.5" font-size="16.9" fill="#c0c020" textLength="166.4" lengthAdjust="spacingAndGlyphs">mechanical-property</text>
<text x="648.4" y="449.6" font-size="15.3" fill="#c0c020" textLength="194.4" lengthAdjust="spacingAndGlyphs">interfacial characterization</text>
<text x="74.2" y="543.8" font-size="15.6" fill="#1cb83a" textLength="128" lengthAdjust="spacingAndGlyphs">residual-stresses</text>
<text x="91.2" y="556.3" font-size="15.4" fill="#1cb83a" textLength="164.8" lengthAdjust="spacingAndGlyphs">selective laser melting</text>
<text x="86.4" y="633" font-size="13.8" fill="#14b8a8" textLength="36.8" lengthAdjust="spacingAndGlyphs">joints</text>
<text x="50.6" y="648" font-size="15.3" fill="#14b8ac" textLength="161.3" lengthAdjust="spacingAndGlyphs">laser metal deposition</text>
<text x="142.6" y="667.4" font-size="15.4" fill="#14b4b8" textLength="61.8" lengthAdjust="spacingAndGlyphs">strength</text>
<text x="64" y="807.2" font-size="13.7" fill="#8040d0" textLength="109" lengthAdjust="spacingAndGlyphs">metal deposition</text>
<text x="142.4" y="827.8" font-size="15" fill="#7030d0" textLength="61.8" lengthAdjust="spacingAndGlyphs">coatings</text>
</g>
<g id="cluster-labels">
<text class="cl" x="1219" y="245.5" fill="#dd0000" textLength="144" lengthAdjust="spacingAndGlyphs">#0 lattice structure</text>
<text class="cl" x="1219" y="298.5" fill="#d84a0c" textLength="165" lengthAdjust="spacingAndGlyphs">#1 energy deposition</text>
<text class="cl" x="1219" y="352" fill="#c88400" textLength="208.8" lengthAdjust="spacingAndGlyphs">#2 compressive properties</text>
<text class="cl" x="1219" y="405.5" fill="#b4ae00" textLength="162" lengthAdjust="spacingAndGlyphs">#3 numerical studies</text>
<text class="cl" x="1219" y="458.5" fill="#66b000" textLength="332" lengthAdjust="spacingAndGlyphs">#4 dynamic photomask-assisted direct ink</text>
<text class="cl" x="1219" y="511.5" fill="#00b800" textLength="134" lengthAdjust="spacingAndGlyphs">#6 laser sintering</text>
<text class="cl" x="1219" y="565" fill="#00b24c" textLength="219" lengthAdjust="spacingAndGlyphs">#8 thermoplastic 3d printing</text>
<text class="cl" x="1219" y="618.5" fill="#00b89c" textLength="149.6" lengthAdjust="spacingAndGlyphs">#9 pvoh composite</text>
<text class="cl" x="1219" y="671.5" fill="#00a0c0" textLength="254.8" lengthAdjust="spacingAndGlyphs">#10 cu-nb soft magnetic material</text>
<text class="cl" x="1219" y="724.5" fill="#1010b0" textLength="94.3" lengthAdjust="spacingAndGlyphs">#13 scaffold</text>
<text class="cl" x="1219" y="778" fill="#5010b4" textLength="193.3" lengthAdjust="spacingAndGlyphs">#14 ti6al4v-tic composite</text>
</g>
</g>
</svg>
